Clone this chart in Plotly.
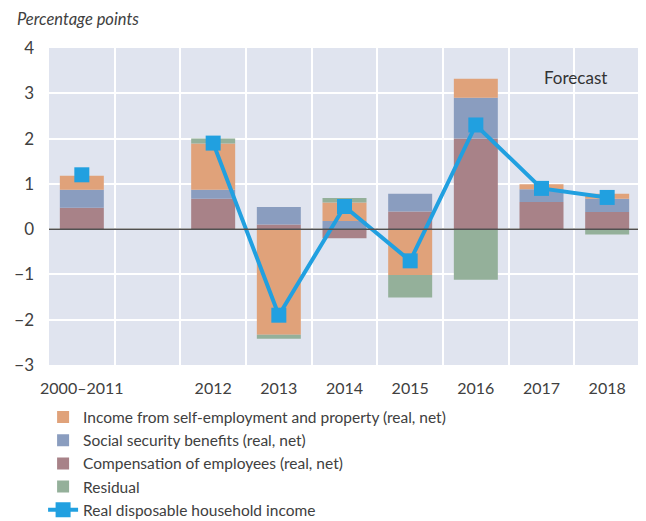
import plotly.graph_objects as go

categories = ["2000–2011", " ", "2012", "2013", "2014", "2015", "2016", "2017", "2018"]
bar_cats = ["2000–2011", "2012", "2013", "2014", "2015", "2016", "2017", "2018"]

compensation = [0.47, 0.67, 0.10, -0.20, 0.39, 2.0, 0.60, 0.38]
social_security = [0.40, 0.20, 0.39, 0.18, 0.39, 0.90, 0.28, 0.29]
self_employment = [0.31, 1.02, -2.33, 0.41, -1.01, 0.42, 0.11, 0.11]
residual = [0.0, 0.11, -0.09, 0.10, -0.50, -1.12, 0.0, -0.12]
rdhi = [1.2, None, 1.9, -1.9, 0.5, -0.7, 2.3, 0.9, 0.7]

y_ticks = [-3, -2, -1, 0, 1, 2, 3, 4]

FONT = "Lato"
TXT = "#404040"

fig = go.Figure()

series = [
    ("Compensation of employees (real, net)", compensation, "#a88288", 3),
    ("Social security benefits (real, net)", social_security, "#8a9dbf", 2),
    ("Income from self-employment and property (real, net)", self_employment, "#e0a27a", 1),
    ("Residual", residual, "#94b09a", 4),
]
for name, vals, col, rank in series:
    fig.add_trace(go.Bar(
        x=bar_cats, y=vals, name=name, marker=dict(color=col, line=dict(width=0)),
        width=0.67, legendrank=rank,
    ))

fig.add_trace(go.Scatter(
    x=categories, y=rdhi, name="Real disposable household income",
    mode="lines+markers", connectgaps=False,
    line=dict(color="#21a0e0", width=4),
    marker=dict(symbol="square", size=15, color="#21a0e0"),
    legendrank=5,
))

fig.update_layout(
    width=646, height=521,
    margin=dict(l=41, r=14, t=40, b=164, autoexpand=False),
    barmode="relative",
    plot_bgcolor="#e0e4ef",
    paper_bgcolor="white",
    font=dict(family=FONT, color=TXT, size=16),
    showlegend=True,
    legend=dict(
        orientation="v", x=-0.010, xanchor="left", y=-0.112, yanchor="top",
        font=dict(size=15.5, color=TXT), tracegroupgap=0, traceorder="normal",
        bgcolor="rgba(0,0,0,0)", itemwidth=30,
    ),
    xaxis=dict(
        type="category", categoryorder="array", categoryarray=categories,
        tickson="boundaries", showgrid=True, gridcolor="white", gridwidth=1.5,
        ticks="", ticklabelstandoff=12, tickangle=0,
        tickfont=dict(size=16, color=TXT),
        range=[-0.5, 8.5], fixedrange=True,
    ),
    yaxis=dict(
        range=[-3, 4], tickvals=y_ticks, showgrid=True, gridcolor="white",
        gridwidth=1.5, zeroline=False, ticks="", ticklabelstandoff=14,
        tickfont=dict(size=17, color=TXT),
    ),
    shapes=[
        dict(type="line", xref="x", yref="paper", x0=5.5, x1=5.5, y0=0, y1=1,
             line=dict(color="#7f9bc4", width=1.5), layer="between"),
        dict(type="line", xref="paper", yref="y", x0=0, x1=1, y0=0, y1=0,
             line=dict(color="#505050", width=1.5), layer="above"),
    ],
    annotations=[
        dict(text="<i>Percentage points</i>", xref="paper", yref="paper", x=-0.0575, y=1.0,
             xanchor="left", yanchor="bottom", yshift=17, showarrow=False,
             font=dict(size=16.5, color=TXT, family=FONT)),
        dict(text="Forecast", xref="x", yref="y", x=7.0, y=3.35, xanchor="center",
             yanchor="middle", xshift=34, showarrow=False,
             font=dict(size=17, color="#333333", family=FONT)),
    ],
)

fig.write_html("out.html")
